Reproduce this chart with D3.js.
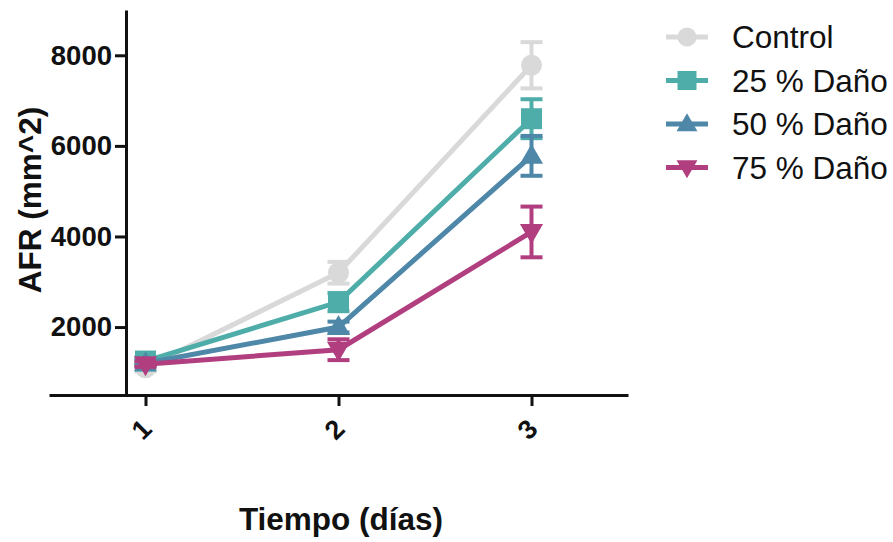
<!DOCTYPE html>
<html>
<head>
<meta charset="utf-8">
<script src="https://cdn.jsdelivr.net/npm/d3@7/dist/d3.min.js"></script>
<style>
  html, body { margin: 0; padding: 0; background: #ffffff; }
  svg { display: block; }
  text { font-family: "Liberation Sans", Arial, sans-serif; fill: #111; }
</style>
</head>
<body>
<svg id="chart" width="893" height="542"></svg>
<script>
// ---- data ----
const days = [1, 2, 3];
const seriesNames = ["Control", "25 % Daño", "50 % Daño", "75 % Daño"];
const controlMean = [1100, 3200, 7780];
const controlErr  = [80, 240, 510];
const dano25Mean  = [1250, 2550, 6600];
const dano25Err   = [80, 200, 430];
const dano50Mean  = [1200, 2000, 5780];
const dano50Err   = [60, 120, 440];
const dano75Mean  = [1180, 1500, 4100];
const dano75Err   = [60, 230, 560];
const yTicks = [2000, 4000, 6000, 8000];
const xTicks = [1, 2, 3];
const colors = ["#d9d9d9", "#4fada9", "#4e87a8", "#b13f80"];
const markers = ["circle", "square", "triangle", "triangleDown"];

const series = [
  { name: seriesNames[0], mean: controlMean, err: controlErr, color: colors[0], marker: markers[0] },
  { name: seriesNames[1], mean: dano25Mean, err: dano25Err, color: colors[1], marker: markers[1] },
  { name: seriesNames[2], mean: dano50Mean, err: dano50Err, color: colors[2], marker: markers[2] },
  { name: seriesNames[3], mean: dano75Mean, err: dano75Err, color: colors[3], marker: markers[3] }
];

const svg = d3.select("#chart");
const x = d3.scaleLinear().domain([0.5, 3.5]).range([49, 628]);
const y = d3.scaleLinear().domain([500, 9000]).range([395, 10]);

// marker path generator
function markerPath(type, size) {
  const s = size;
  if (type === "circle") return d3.symbol().type(d3.symbolCircle).size(Math.PI * s * s / 4)();
  if (type === "square") return `M${-s/2},${-s/2}H${s/2}V${s/2}H${-s/2}Z`;
  const h = s * 0.95;
  if (type === "triangle") return `M0,${-h*0.6}L${s*0.55},${h*0.4}L${-s*0.55},${h*0.4}Z`;
  return `M0,${h*0.6}L${s*0.55},${-h*0.4}L${-s*0.55},${-h*0.4}Z`;
}

// ---- axes ----
const yAxis = d3.axisLeft(y).tickValues(yTicks).tickSize(11).tickSizeOuter(0).tickPadding(3)
  .tickFormat(d3.format("d"));
const gy = svg.append("g").attr("transform", "translate(126,0)").call(yAxis);
gy.select(".domain").attr("stroke", "#111").attr("stroke-width", 3);
gy.selectAll(".tick line").attr("stroke", "#111").attr("stroke-width", 3);
gy.selectAll(".tick text").style("font-size", "27.5px").style("font-weight", "bold")
  .style("font-family", "'Liberation Sans', Arial, sans-serif").attr("fill", "#111");

const xAxis = d3.axisBottom(x).tickValues(xTicks).tickSize(11).tickSizeOuter(0).tickPadding(10)
  .tickFormat(d3.format("d"));
const gx = svg.append("g").attr("transform", "translate(0,395)").call(xAxis);
gx.select(".domain").attr("stroke", "#111").attr("stroke-width", 3);
gx.selectAll(".tick line").attr("stroke", "#111").attr("stroke-width", 3);
gx.selectAll(".tick text")
  .style("font-size", "27px").style("font-weight", "bold")
  .style("font-family", "'Liberation Sans', Arial, sans-serif").attr("fill", "#111")
  .attr("text-anchor", "middle").attr("dy", null).attr("y", 0)
  .attr("transform", "translate(-3,36) rotate(-45)")
  .attr("dominant-baseline", "middle");

// axis titles
svg.append("text").attr("x", 341).attr("y", 530).attr("text-anchor", "middle")
  .style("font-size", "31.5px").style("font-weight", "bold").text("Tiempo (días)");
svg.append("text").attr("transform", "translate(41,200) rotate(-90)").attr("text-anchor", "middle")
  .style("font-size", "31.5px").style("font-weight", "bold").text("AFR (mm^2)");

// ---- series ----
const line = d3.line().x((d, i) => x(days[i])).y(d => y(d));
series.forEach(s => {
  const g = svg.append("g");
  // error bars
  days.forEach((dd, i) => {
    const cx = x(dd), top = y(s.mean[i] + s.err[i]), bot = y(s.mean[i] - s.err[i]);
    g.append("line").attr("x1", cx).attr("x2", cx).attr("y1", top).attr("y2", bot)
      .attr("stroke", s.color).attr("stroke-width", 4);
    [top, bot].forEach(yy => g.append("line").attr("x1", cx - 11).attr("x2", cx + 11)
      .attr("y1", yy).attr("y2", yy).attr("stroke", s.color).attr("stroke-width", 4));
  });
  g.append("path").datum(s.mean).attr("d", line).attr("fill", "none")
    .attr("stroke", s.color).attr("stroke-width", 5);
  days.forEach((dd, i) => {
    g.append("path").attr("d", markerPath(s.marker, 21))
      .attr("transform", `translate(${x(dd)},${y(s.mean[i])})`).attr("fill", s.color);
  });
});

// ---- legend ----
const leg = svg.append("g");
series.forEach((s, i) => {
  const ly = 37 + i * 43.5;
  leg.append("line").attr("x1", 666).attr("x2", 708).attr("y1", ly).attr("y2", ly)
    .attr("stroke", s.color).attr("stroke-width", 5);
  leg.append("path").attr("d", markerPath(s.marker, 19))
    .attr("transform", `translate(687,${ly})`).attr("fill", s.color);
  leg.append("text").attr("x", 732).attr("y", ly).attr("dy", "0.36em")
    .style("font-size", "31.5px").text(s.name);
});
</script>
</body>
</html>
